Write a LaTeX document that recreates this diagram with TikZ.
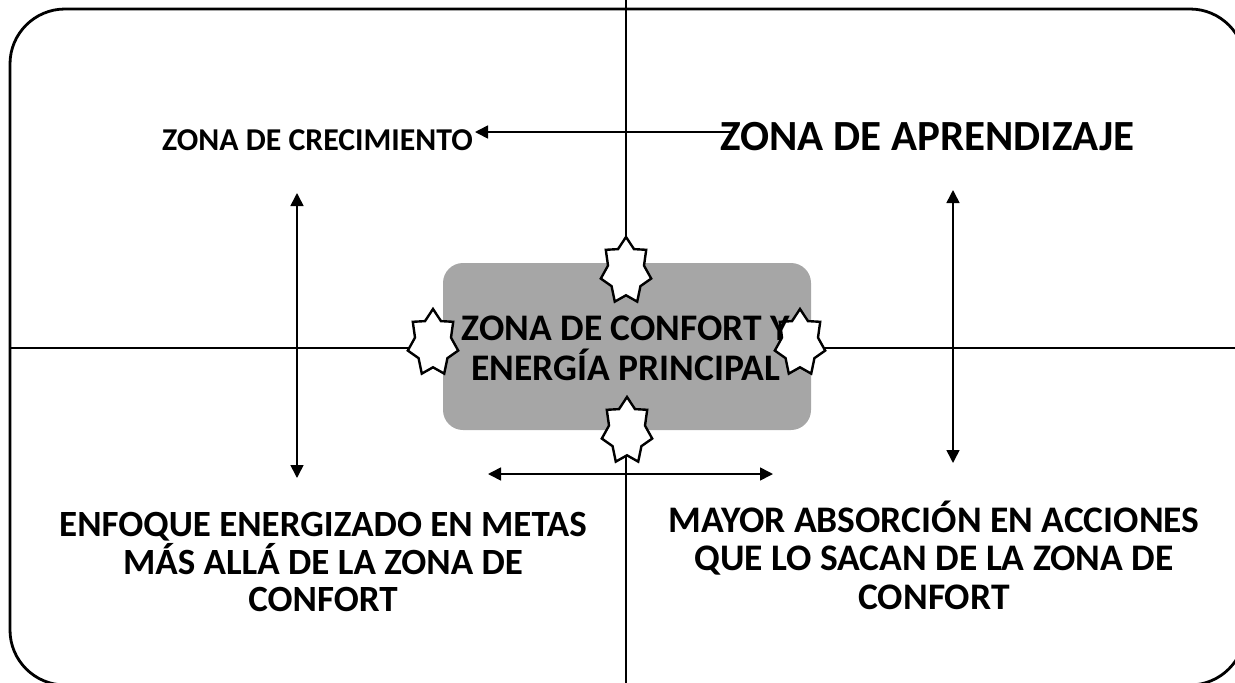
\documentclass[tikz,border=0pt]{standalone}
\usepackage{fontspec}
\setmainfont{Carlito}
\usetikzlibrary{shapes.geometric,arrows.meta}
\tikzset{
  frame/.style={line width=2.8pt},
  axis/.style={line width=2.5pt},
  arr/.style={line width=1.6pt,-{Triangle[length=13pt,width=13pt]}},
  darr/.style={line width=1.6pt,{Triangle[length=13pt,width=13pt]}-{Triangle[length=13pt,width=13pt]}},
  burst/.style={star,star points=7,star point ratio=1.4,draw,line width=2.4pt,fill=white,
    minimum size=68pt,inner sep=0pt,xscale=0.76,transform shape},
  lbl/.style={font=\bfseries,align=center,inner sep=0pt},
}
\begin{document}
\begin{tikzpicture}[x=1pt,y=1pt]
\useasboundingbox (0,0) rectangle (1235,-683);
\begin{scope}
\clip (0,0) rectangle (1235,-683);
\draw[frame,rounded corners=55pt] (10,-9) rectangle (1245,-685);
\coordinate (vt) at (626,0);
\coordinate (vb) at (626,-683);
\coordinate (hl) at (10,-348);
\coordinate (hr) at (1235,-348);
\draw[axis] (vt) -- (vb);
\draw[axis] (hl) -- (hr);
\end{scope}
\node[fill={rgb,255:red,166;green,166;blue,166},rounded corners=20pt,minimum width=368pt,minimum height=167pt,inner sep=0pt] (core) at (627,-346.5) {};
\node[burst] (s1) at (626,-271) {};
\node[burst] (s2) at (627,-431) {};
\node[burst] (s3) at (433,-343) {};
\node[burst] (s4) at (800,-343) {};
\node[lbl,font=\bfseries\fontsize{37.5}{40}\selectfont] (ct) at (626,-348) {ZONA DE CONFORT Y\\ENERGÍA PRINCIPAL};
\node[lbl,font=\bfseries\fontsize{31.8}{34}\selectfont] (tl) at (317.5,-140) {ZONA DE CRECIMIENTO};
\node[lbl,font=\bfseries\fontsize{43}{46}\selectfont] (tr) at (927.5,-137) {ZONA DE APRENDIZAJE};
\node[lbl,font=\bfseries\fontsize{37}{37.5}\selectfont] (bl) at (323,-562) {ENFOQUE ENERGIZADO EN METAS\\MÁS ALLÁ DE LA ZONA DE\\CONFORT};
\node[lbl,font=\bfseries\fontsize{37.5}{38.5}\selectfont] (br) at (934,-555) {MAYOR ABSORCIÓN EN ACCIONES\\QUE LO SACAN DE LA ZONA DE\\CONFORT};
\coordinate (a1s) at (733,-132);
\coordinate (a1e) at (475,-132);
\draw[arr] (a1s) -- (a1e);
\coordinate (a2a) at (297,-193);
\coordinate (a2b) at (297,-478);
\draw[darr] (a2a) -- (a2b);
\coordinate (a3a) at (953,-190);
\coordinate (a3b) at (953,-463);
\draw[darr] (a3a) -- (a3b);
\coordinate (a4a) at (488,-474);
\coordinate (a4b) at (773,-474);
\draw[darr] (a4a) -- (a4b);
\end{tikzpicture}
\end{document}
